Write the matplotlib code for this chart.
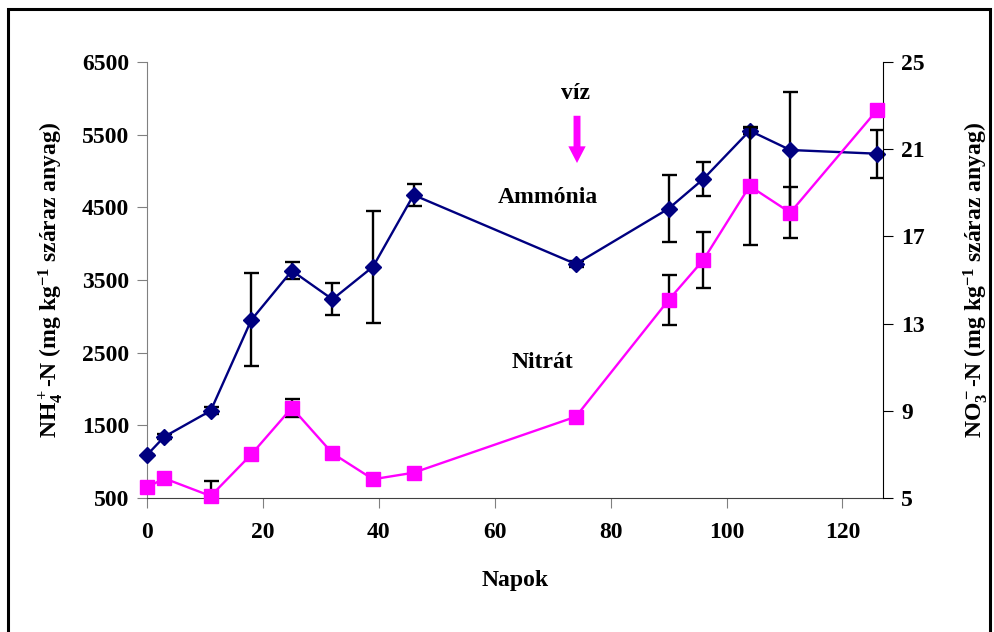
import matplotlib
matplotlib.use("Agg")
import matplotlib.pyplot as plt
from matplotlib.patches import Rectangle

plt.rcParams['font.family'] = ['Liberation Serif', 'DejaVu Serif']
plt.rcParams['font.weight'] = 'bold'
plt.rcParams['mathtext.fontset'] = 'custom'
plt.rcParams['mathtext.rm'] = 'Liberation Serif:bold'
plt.rcParams['mathtext.it'] = 'Liberation Serif:bold'
plt.rcParams['mathtext.bf'] = 'Liberation Serif:bold'

# Data
days_amm = [0, 3, 11, 18, 25, 32, 39, 46, 74, 90, 96, 104, 111, 126]
ammonia = [1092, 1344, 1702, 2950, 3628, 3234, 3683, 4670, 3720, 4482, 4890, 5555, 5289, 5238]
ammonia_err = [0, 30, 50, 640, 120, 220, 770, 147, 40, 460, 235, 40, 795, 330]

days_nit = [0, 3, 11, 18, 25, 32, 39, 46, 74, 90, 96, 104, 111, 126]
nitrate = [5.49, 5.9, 5.09, 7.0, 9.14, 7.05, 5.86, 6.16, 8.73, 14.08, 15.92, 19.31, 18.09, 22.8]
nitrate_err = [0, 0, 0.7, 0, 0.42, 0, 0, 0, 0, 1.14, 1.3, 2.69, 1.17, 0]

xticks = [0, 20, 40, 60, 80, 100, 120]
left_ticks = [500, 1500, 2500, 3500, 4500, 5500, 6500]
right_ticks = [5, 9, 13, 17, 21, 25]

FS = 17
fig = plt.figure(figsize=(9.95, 6.32), dpi=100)
fig.patches.append(Rectangle((8/995, -0.05), (990-8)/995, 1.05 - 9/632, transform=fig.transFigure,
                             fill=False, edgecolor='black', linewidth=2.2, zorder=0))

ax = fig.add_axes([147/995, 1-498/632, (883-147)/995, (498-62)/632])
ax2 = ax.twinx()

# error bars (clipped to the plot area)
ax.errorbar(days_amm, ammonia, yerr=ammonia_err, fmt='none', ecolor='black',
            elinewidth=1.7, capsize=5.4, capthick=1.7, zorder=2)
ax.plot(days_amm, ammonia, color='#000080', marker='D', markersize=8, linewidth=1.7,
        clip_on=False, zorder=3)
ax2.errorbar(days_nit, nitrate, yerr=nitrate_err, fmt='none', ecolor='black',
             elinewidth=1.7, capsize=5.4, capthick=1.7, zorder=2)
ax2.plot(days_nit, nitrate, color='#FF00FF', marker='s', markersize=10, linewidth=1.7,
         clip_on=False, zorder=3)

ax.set_xlim(0, 127)
ax.set_ylim(500, 6500)
ax2.set_ylim(5, 25)
ax.set_xticks(xticks)
ax.set_yticks(left_ticks)
ax2.set_yticks(right_ticks)

for a in (ax, ax2):
    a.spines['top'].set_visible(False)
    a.set_facecolor('none')
ax.spines['left'].set_color('#808080')
ax.spines['bottom'].set_color('#404040')
ax.spines['right'].set_visible(False)
ax2.spines['left'].set_visible(False)
ax2.spines['bottom'].set_visible(False)
ax2.spines['right'].set_color('black')

ax.tick_params(axis='y', direction='out', length=7, color='#808080', labelsize=FS, pad=6)
ax.tick_params(axis='x', direction='out', length=7, color='#808080', labelsize=FS, pad=10)
ax2.tick_params(axis='y', direction='out', length=7, color='black', labelsize=FS, pad=6)
for lbl in ax.get_xticklabels() + ax.get_yticklabels() + ax2.get_yticklabels():
    lbl.set_fontweight('bold')

ax.set_xlabel('Napok', fontsize=FS, fontweight='bold', labelpad=20)
ax.set_ylabel(r'NH$_4^+$-N (mg kg$^{-1}$ száraz anyag)', fontsize=FS, fontweight='bold', labelpad=12)
ax2.set_ylabel(r'NO$_3^-$-N (mg kg$^{-1}$ száraz anyag)', fontsize=FS, fontweight='bold',
               labelpad=26, rotation=90)

ax.text(74, 6073, 'víz', fontsize=FS, fontweight='bold', ha='center', va='center')
ax.text(69.2, 4629, 'Ammónia', fontsize=FS, fontweight='bold', ha='center', va='center')
ax.text(68.2, 2358, 'Nitrát', fontsize=FS, fontweight='bold', ha='center', va='center')
ax.annotate('', xy=(74.2, 5110), xytext=(74.2, 5760),
            arrowprops=dict(arrowstyle='simple,head_length=1.2,head_width=1.25,tail_width=0.5',
                            color='#FF00FF', lw=0, shrinkA=0, shrinkB=0))

fig.savefig('out.png', dpi=100)
